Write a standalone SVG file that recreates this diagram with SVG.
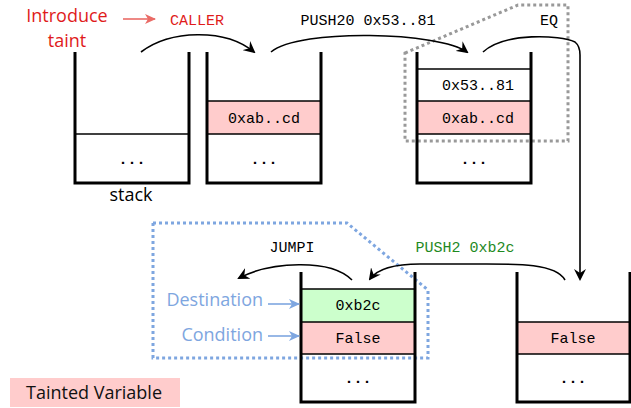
<svg xmlns="http://www.w3.org/2000/svg" width="631" height="408" viewBox="0 0 631 408">
<defs>
<style>
.wall{fill:none;stroke:#000;stroke-width:3}
.div{stroke:#000;stroke-width:1.6}
.pink{fill:#ffcccc}
.green{fill:#ccffcc}
.mono{font-family:"Liberation Mono","Courier New",monospace;font-size:15px;text-anchor:middle}
.sans{font-family:"Open Sans","DejaVu Sans",sans-serif;font-size:18px}
.conn{fill:none;stroke:#000;stroke-width:1.6}
</style>
<marker id="ah" markerWidth="12" markerHeight="12" refX="10" refY="6" orient="auto" markerUnits="userSpaceOnUse">
<path d="M0,0 L12,6 L0,12 L4,6 Z" fill="#000"/>
</marker>
<marker id="ahb" markerWidth="12" markerHeight="12" refX="10" refY="6" orient="auto" markerUnits="userSpaceOnUse">
<path d="M0,1 L11,6 L0,11 L3,6 Z" fill="#7ea6e0"/>
</marker>
<marker id="ahr" markerWidth="12" markerHeight="12" refX="10" refY="6" orient="auto" markerUnits="userSpaceOnUse">
<path d="M0,1 L11,6 L0,11 L3,6 Z" fill="#ea6b66"/>
</marker>
</defs>
<rect width="631" height="408" fill="#fff"/>

<g id="highlights">
<polygon points="405,53 518,5 568,5 568,141 405,141" fill="none" stroke="#999" stroke-width="3" stroke-dasharray="3,3"/>
<polygon points="153,223 347,223 428,290 428,358 153,358" fill="none" stroke="#7ea6e0" stroke-width="3" stroke-dasharray="3,3"/>
</g>

<g id="stack1">
<line class="div" x1="75" y1="134" x2="189" y2="134"/>
<polyline class="wall" points="75,52 75,183 189,183 189,52"/>
<text class="mono" x="132" y="164" font-weight="bold">...</text>
<text class="sans" x="131" y="201" text-anchor="middle">stack</text>
</g>

<g id="stack2">
<rect class="pink" x="207" y="101" width="114" height="33"/>
<line class="div" x1="207" y1="101" x2="321" y2="101"/>
<line class="div" x1="207" y1="134" x2="321" y2="134"/>
<polyline class="wall" points="207,52 207,183 321,183 321,52"/>
<text class="mono" x="264" y="123">0xab..cd</text>
<text class="mono" x="264" y="164" font-weight="bold">...</text>
</g>

<g id="stack3">
<rect class="pink" x="417" y="101" width="114" height="33"/>
<line class="div" x1="417" y1="69" x2="531" y2="69"/>
<line class="div" x1="417" y1="101" x2="531" y2="101"/>
<line class="div" x1="417" y1="134" x2="531" y2="134"/>
<polyline class="wall" points="417,52 417,183 531,183 531,52"/>
<text class="mono" x="478" y="90">0x53..81</text>
<text class="mono" x="478" y="123">0xab..cd</text>
<text class="mono" x="474" y="164" font-weight="bold">...</text>
</g>

<g id="stack4">
<rect class="pink" x="517" y="322" width="113" height="32"/>
<line class="div" x1="517" y1="322" x2="630" y2="322"/>
<line class="div" x1="517" y1="354" x2="630" y2="354"/>
<polyline class="wall" points="517,272 517,402 630,402 630,272"/>
<text class="mono" x="573" y="343">False</text>
<text class="mono" x="573" y="383" font-weight="bold">...</text>
</g>

<g id="stack5">
<rect class="green" x="301" y="289" width="114" height="33"/>
<rect class="pink" x="301" y="322" width="114" height="32"/>
<line class="div" x1="301" y1="289" x2="415" y2="289"/>
<line class="div" x1="301" y1="322" x2="415" y2="322"/>
<line class="div" x1="301" y1="354" x2="415" y2="354"/>
<polyline class="wall" points="301,272 301,402 415,402 415,272"/>
<text class="mono" x="358" y="310">0xb2c</text>
<text class="mono" x="358" y="343">False</text>
<text class="mono" x="358" y="383" font-weight="bold">...</text>
</g>

<g id="labels">
<text class="sans" x="67" y="22" text-anchor="middle" fill="#e01b1b">Introduce</text>
<text class="sans" x="67" y="47" text-anchor="middle" fill="#e01b1b">taint</text>
<text class="sans" x="263" y="306" text-anchor="end" fill="#7ea6e0">Destination</text>
<text class="sans" x="263" y="341" text-anchor="end" fill="#7ea6e0">Condition</text>
</g>

<g id="legend">
<rect class="pink" x="10" y="378" width="170" height="29"/>
<text class="sans" x="94" y="399" text-anchor="middle" fill="#111">Tainted Variable</text>
</g>

<g id="connectors">
<line x1="123" y1="19" x2="155" y2="19" stroke="#ea6b66" stroke-width="1.6" marker-end="url(#ahr)"/>
<path class="conn" d="M141,52 C170,30 225,28 254,52" marker-end="url(#ah)"/>
<path class="conn" d="M271,52 C300,28 440,32 467,52" marker-end="url(#ah)"/>
<path class="conn" d="M483,52 C505,32 560,35 575,42 Q580,46 580,55 L580,279" marker-end="url(#ah)"/>
<path class="conn" d="M565,280 C555,262 510,264 470,264 L420,264 C395,264 378,268 370,279" marker-end="url(#ah)"/>
<path class="conn" d="M352,280 C330,258 270,262 239,278" marker-end="url(#ah)"/>
<line x1="268" y1="304" x2="299" y2="304" stroke="#7ea6e0" stroke-width="1.6" marker-end="url(#ahb)"/>
<line x1="268" y1="336" x2="299" y2="336" stroke="#7ea6e0" stroke-width="1.6" marker-end="url(#ahb)"/>
</g>

<g id="connector-labels">
<text class="mono" x="197" y="25" fill="#e01b1b">CALLER</text>
<text class="mono" x="368" y="25">PUSH20 0x53..81</text>
<text class="mono" x="549" y="25">EQ</text>
<text class="mono" x="465" y="252" fill="#1f8a1f">PUSH2 0xb2c</text>
<text class="mono" x="292" y="252">JUMPI</text>
</g>
</svg>
